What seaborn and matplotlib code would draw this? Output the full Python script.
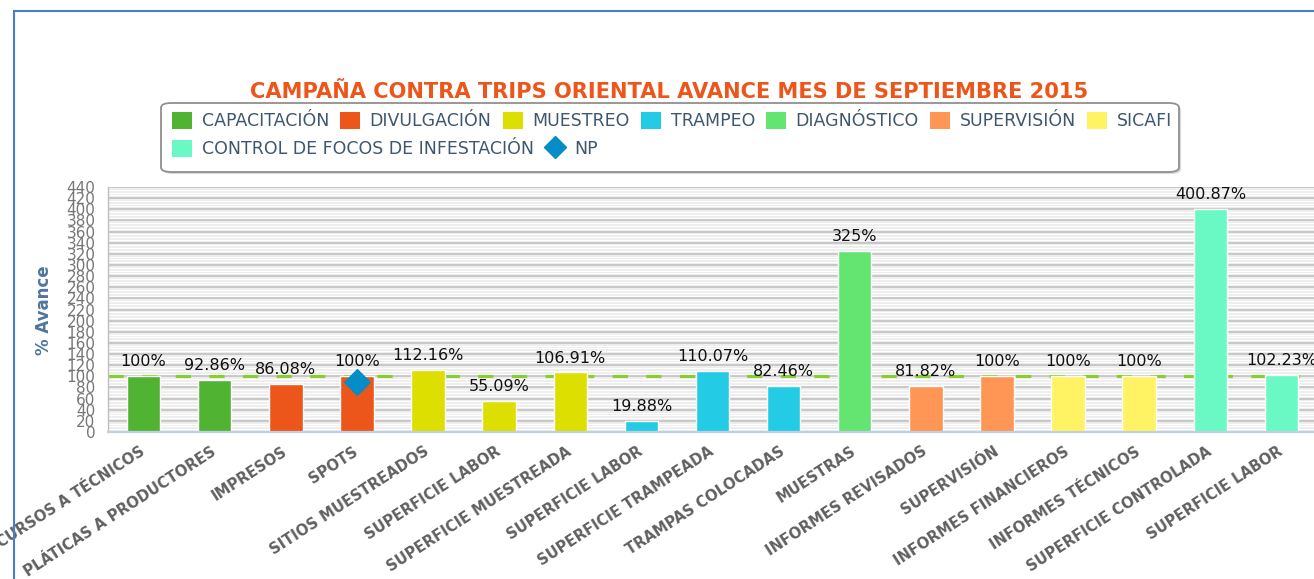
import numpy as np
import pandas as pd
import matplotlib
matplotlib.use("Agg")
import matplotlib.pyplot as plt
import seaborn as sns
from matplotlib.patches import Patch, FancyBboxPatch, Rectangle
from matplotlib.lines import Line2D

# data
labels = [
    "CURSOS A TÉCNICOS", "PLÁTICAS A PRODUCTORES", "IMPRESOS", "SPOTS",
    "SITIOS MUESTREADOS", "SUPERFICIE LABOR", "SUPERFICIE MUESTREADA",
    "SUPERFICIE LABOR", "SUPERFICIE TRAMPEADA", "TRAMPAS COLOCADAS",
    "MUESTRAS", "INFORMES REVISADOS", "SUPERVISIÓN", "INFORMES FINANCIEROS",
    "INFORMES TÉCNICOS", "SUPERFICIE CONTROLADA", "SUPERFICIE LABOR",
]
groups = [
    "CAPACITACIÓN", "CAPACITACIÓN", "DIVULGACIÓN", "DIVULGACIÓN",
    "MUESTREO", "MUESTREO", "MUESTREO",
    "TRAMPEO", "TRAMPEO", "TRAMPEO",
    "DIAGNÓSTICO", "SUPERVISIÓN", "SUPERVISIÓN", "SICAFI", "SICAFI",
    "CONTROL DE FOCOS DE INFESTACIÓN", "CONTROL DE FOCOS DE INFESTACIÓN",
]
avance = [100, 92.86, 86.08, 100, 112.16, 55.09, 106.91, 19.88, 110.07,
          82.46, 325, 81.82, 100, 100, 100, 400.87, 102.23]
np_pos = [3]
np_val = [90]
meta = 100

group_order = ["CAPACITACIÓN", "DIVULGACIÓN", "MUESTREO", "TRAMPEO",
               "DIAGNÓSTICO", "SUPERVISIÓN", "SICAFI",
               "CONTROL DE FOCOS DE INFESTACIÓN"]
group_colors = ["#50b432", "#ed561b", "#dddf00", "#24cbe5",
                "#64e572", "#ff9655", "#fff263", "#6af9c4"]
np_color = "#058dc7"

df = pd.DataFrame({"pos": range(len(labels)), "grupo": groups, "avance": avance})
palette = dict(zip(group_order, group_colors))

sns.set_theme(style="white")
plt.rcParams["font.family"] = ["DejaVu Sans"]

W, H = 1314, 579
fig = plt.figure(figsize=(W / 100, H / 100), dpi=100)
ax = fig.add_axes([108 / W, (H - 432) / H, 1209 / W, 245 / H])
ax.set_facecolor("#eeeeee")

# target line behind the bars
ax.axhline(meta, color="#86d02a", lw=2.2, ls=(0, (5, 6)), zorder=1)

sns.barplot(data=df, x="pos", y="avance", hue="grupo", palette=palette,
            hue_order=group_order, dodge=False, width=0.47, legend=False,
            saturation=1, edgecolor="white", linewidth=1, ax=ax, zorder=2)

sns.scatterplot(x=np_pos, y=np_val, marker="D", s=170, color=np_color,
                edgecolor=np_color, ax=ax, zorder=4, legend=False)

for i, v in enumerate(avance):
    ax.annotate(f"{v:g}%", (i, v), xytext=(0, 5), textcoords="offset points",
                ha="center", va="bottom", fontsize=11.5, color="#111111", zorder=5)

ax.set_xlim(-0.5, len(labels) - 0.5)
ax.set_ylim(0, 440)
ax.set_yticks(np.arange(0, 441, 20))
ax.set_yticks(np.arange(0, 441, 5), minor=True)
ax.grid(True, axis="y", which="major", color="#bdbdbd", lw=1.1, zorder=0)
ax.grid(True, axis="y", which="minor", color="#ffffff", lw=0.8, zorder=0)
ax.grid(False, axis="x", which="both")
ax.set_axisbelow(True)
ax.tick_params(axis="y", which="both", length=0, pad=9, labelsize=11,
               labelcolor="#777777")

ax.set_xticks(range(len(labels)))
ax.set_xticklabels(labels, rotation=33, ha="right", va="center",
                   rotation_mode="anchor", fontweight="bold",
                   color="#606060", fontsize=10.6)
ax.set_xticks(np.arange(-0.5, len(labels), 1), minor=True)
ax.tick_params(axis="x", which="major", length=0, pad=13)
ax.tick_params(axis="x", which="minor", length=5, width=3, color="#333333",
               direction="out")
ax.set_xlabel("")
ax.set_ylabel("")

for s in ["top", "right"]:
    ax.spines[s].set_visible(False)
ax.spines["left"].set_color("#c0c0c0")
ax.spines["left"].set_linewidth(1)
ax.spines["bottom"].set_color("#c0d0e0")
ax.spines["bottom"].set_linewidth(1.6)

fig.text(44 / W, 1 - 310 / H, "% Avance", rotation=90, ha="center",
         va="center", fontsize=12, fontweight="bold", color="#4d759e")

fig.text(669 / W, 1 - 92 / H,
         "CAMPAÑA CONTRA TRIPS ORIENTAL AVANCE MES DE SEPTIEMBRE 2015",
         ha="center", va="center", fontsize=15.1, fontweight="bold",
         color="#ed561b")

# legend box
shadow = FancyBboxPatch((163 / W, 1 - 174 / H), 1018 / W, 69 / H,
                        boxstyle="round,pad=0,rounding_size=0.008",
                        transform=fig.transFigure, facecolor="#d8d8d8",
                        edgecolor="none", zorder=0)
box = FancyBboxPatch((161 / W, 1 - 172 / H), 1018 / W, 69 / H,
                     boxstyle="round,pad=0,rounding_size=0.008",
                     transform=fig.transFigure, facecolor="white",
                     edgecolor="#909090", lw=1.3, zorder=1)
fig.patches.extend([shadow, box])

handles = [Patch(facecolor=c, edgecolor="none") for c in group_colors]
np_handle = Line2D([], [], marker="D", color=np_color, ls="none", markersize=11)
leg_kw = dict(frameon=False, borderpad=0, borderaxespad=0, handlelength=1.15,
              handleheight=1.15, handletextpad=0.55, columnspacing=0.65,
              fontsize=12.5, labelcolor="#3e576f", loc="center left")
leg1 = fig.legend(handles[:7], group_order[:7], ncol=7,
                  bbox_to_anchor=(172 / W, 1 - 121 / H), **leg_kw)
leg2 = fig.legend([handles[7], np_handle], [group_order[7], "NP"], ncol=2,
                  bbox_to_anchor=(172 / W, 1 - 149 / H), **leg_kw)
leg1.set_zorder(3)
leg2.set_zorder(3)

# outer chart border
fig.patches.append(Rectangle((14 / W, -0.1), 1.2, 1 - 11 / H + 0.1,
                             transform=fig.transFigure, fill=False,
                             edgecolor="#4a7cc8", lw=1.5, zorder=10))

fig.savefig("out.png", dpi=100)
